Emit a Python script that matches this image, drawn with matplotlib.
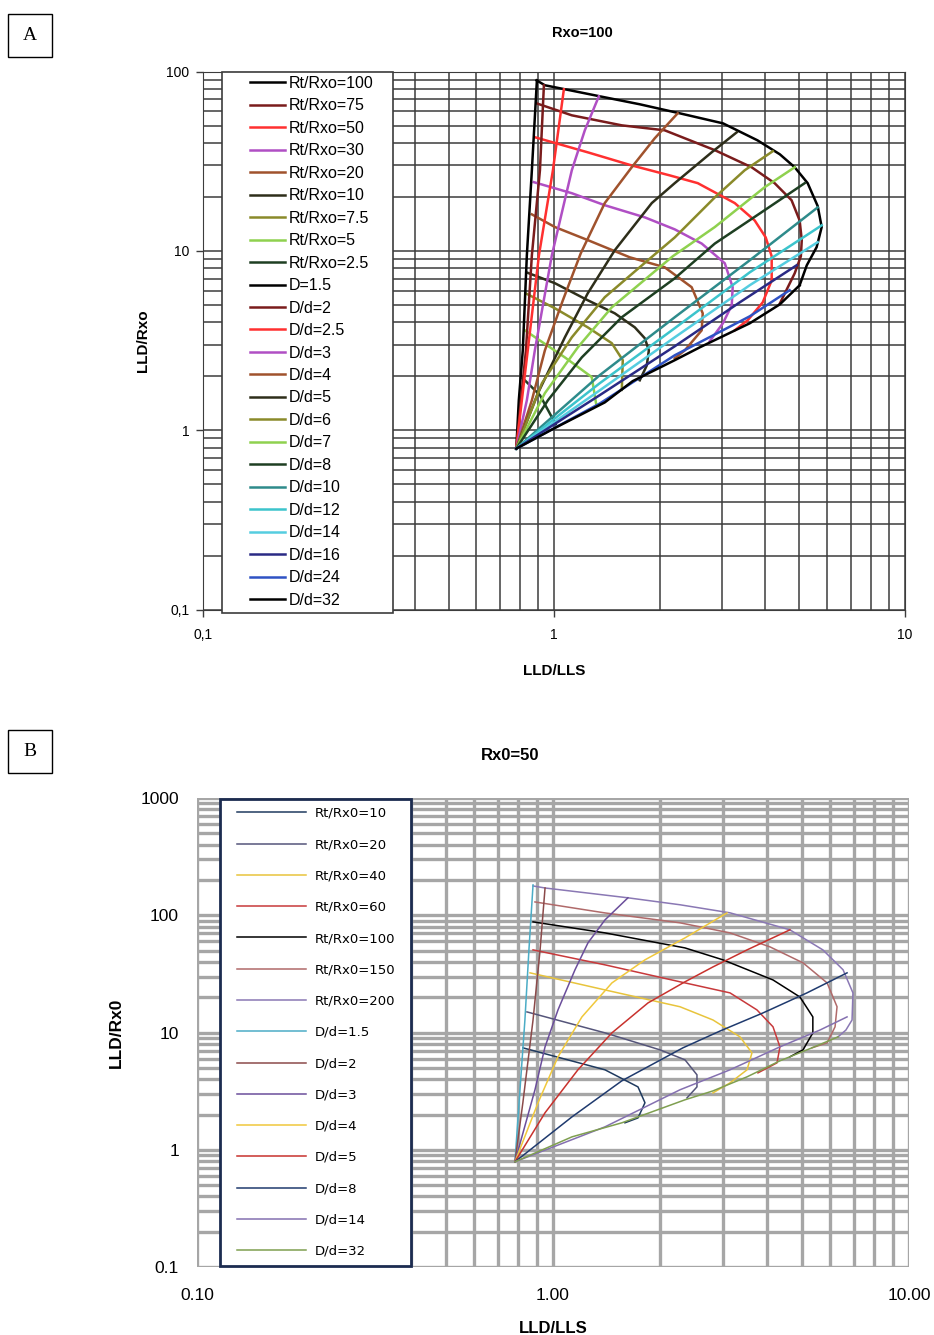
import matplotlib.pyplot as plt
import matplotlib.patches as mpatches

# ---------------- panel A : Rxo = 100 ----------------
a_origin = (0.78, 0.79)

a_rt_labels = ['Rt/Rxo=100', 'Rt/Rxo=75', 'Rt/Rxo=50', 'Rt/Rxo=30', 'Rt/Rxo=20',
               'Rt/Rxo=10', 'Rt/Rxo=7.5', 'Rt/Rxo=5', 'Rt/Rxo=2.5']
a_rt_x = [
    [0.891, 0.941, 1.073, 1.349, 1.754, 2.28, 3.03, 3.80, 4.40, 4.85, 5.28, 5.64, 5.79, 5.60, 5.25, 5.01],
    [0.891, 1.123, 1.559, 2.066, 2.871, 3.656, 4.25, 4.75, 5.01, 5.08, 5.05, 4.85, 4.40],
    [0.881, 1.247, 1.664, 2.136, 2.566, 3.272, 3.73, 4.01, 4.17, 4.17, 3.932, 3.564, 3.272],
    [0.875, 1.123, 1.394, 1.813, 2.207, 2.634, 3.065, 3.228, 3.208, 3.027, 2.777],
    [0.864, 1.005, 1.247, 1.643, 2.066, 2.466, 2.652, 2.634, 2.357, 2.207],
    [0.834, 1.005, 1.247, 1.489, 1.698, 1.813, 1.862, 1.837, 1.754],
    [0.829, 1.005, 1.247, 1.46, 1.569, 1.559],
    [0.825, 1.073, 1.28, 1.32],
    [0.814, 0.911, 1.01],
]
a_rt_y = [
    [89.5, 84.0, 79.8, 72.9, 65.8, 58.6, 51.5, 41.4, 34.6, 29.3, 23.9, 17.8, 13.6, 10.5, 8.32, 6.44],
    [66.6, 57.1, 50.2, 47.1, 36.5, 29.3, 23.9, 19.2, 14.8, 11.5, 9.34, 7.51, 5.1],
    [43.1, 35.5, 30.0, 26.4, 23.9, 18.5, 14.8, 11.9, 9.34, 6.86, 5.17, 4.11, 3.61],
    [24.2, 21.0, 18.0, 15.4, 13.2, 11.0, 8.54, 6.28, 4.98, 3.95, 3.14],
    [16.0, 13.6, 11.5, 9.22, 8.11, 6.28, 4.49, 3.61, 2.79, 2.52],
    [7.60, 6.61, 5.31, 4.49, 3.75, 3.26, 2.79, 2.30, 1.90],
    [5.81, 4.79, 3.75, 3.06, 2.46, 1.68],
    [3.61, 2.55, 1.98, 1.37],
    [1.95, 1.57, 1.08],
]

a_dd_labels = ['D=1.5', 'D/d=2', 'D/d=2.5', 'D/d=3', 'D/d=4', 'D/d=5', 'D/d=6', 'D/d=7',
               'D/d=8', 'D/d=10', 'D/d=12', 'D/d=14', 'D/d=16', 'D/d=24', 'D/d=32']
a_dd_x = [
    [0.793, 0.814, 0.836, 0.864, 0.893],
    [0.804, 0.831, 0.864, 0.911, 0.935],
    [0.809, 0.841, 0.905, 0.992, 1.066],
    [0.836, 0.881, 0.985, 1.123, 1.223, 1.341],
    [0.864, 0.941, 1.059, 1.191, 1.394, 1.664, 1.935, 2.25],
    [0.899, 1.073, 1.247, 1.489, 1.898, 2.207, 2.812, 3.315],
    [0.923, 1.123, 1.394, 1.849, 2.207, 2.871, 3.493, 4.20],
    [0.941, 1.168, 1.46, 2.178, 2.871, 3.984, 4.85],
    [0.96, 1.199, 1.559, 2.207, 2.871, 3.984, 5.18],
    [1.349, 2.207, 3.61, 5.64],
    [1.349, 2.207, 3.61, 5.79],
    [1.349, 2.207, 3.61, 5.64],
    [1.349, 2.207, 3.381, 4.91],
    [1.349, 2.207, 3.61, 4.69],
    [1.005, 1.394, 1.675, 2.207, 2.60, 3.61, 4.40, 5.01],
]
a_dd_y = [
    [1.47, 2.79, 9.46, 28.2, 89.5],
    [1.47, 2.79, 9.46, 28.2, 84.0],
    [1.47, 2.79, 9.46, 28.2, 79.8],
    [1.47, 2.79, 9.46, 28.2, 47.1, 72.9],
    [1.47, 2.79, 5.31, 9.71, 18.5, 29.3, 42.5, 58.6],
    [1.61, 3.30, 5.81, 10.1, 18.5, 23.9, 35.5, 45.9],
    [1.83, 3.30, 5.52, 8.87, 11.9, 19.9, 28.2, 36.0],
    [1.61, 2.90, 4.85, 9.34, 13.6, 22.7, 29.3],
    [1.47, 2.55, 4.27, 7.04, 11.0, 16.9, 23.9],
    [2.03, 4.27, 8.87, 17.5],
    [1.83, 3.71, 7.60, 13.9],
    [1.67, 3.30, 6.44, 11.2],
    [1.57, 2.94, 5.17, 8.32],
    [1.41, 2.62, 4.32, 6.04],
    [1.03, 1.43, 1.88, 2.46, 2.90, 3.95, 5.04, 6.44],
]

a_rt_colors = ['#000000', '#7a1c1c', '#ff3030', '#b04fc4', '#a0522d',
               '#2e2e1a', '#8a8a2a', '#8fd14f', '#1e3f22']
a_dd_colors = ['#000000', '#7a1c1c', '#ff3030', '#b04fc4', '#a0522d', '#2e2e1a',
               '#8a8a2a', '#8fd14f', '#1e3f22', '#2e8b8b', '#3cc4cc', '#55cde0',
               '#2a2a85', '#2f52c4', '#000000']

# ---------------- panel B : Rx0 = 50 ----------------
b_origin = (0.782, 0.79)

b_rt_labels = ['Rt/Rx0=10', 'Rt/Rx0=20', 'Rt/Rx0=40', 'Rt/Rx0=60', 'Rt/Rx0=100',
               'Rt/Rx0=150', 'Rt/Rx0=200']
b_rt_x = [
    [0.823, 1.40, 1.733, 1.813, 1.733, 1.593],
    [0.845, 1.40, 1.998, 2.349, 2.538, 2.538, 2.379],
    [0.862, 1.40, 2.274, 2.815, 3.352, 3.622, 3.508, 3.142, 2.815],
    [0.879, 1.40, 2.274, 3.142, 3.741, 4.15, 4.34, 4.26, 3.765],
    [0.879, 1.40, 2.349, 3.003, 4.15, 4.94, 5.37, 5.37, 5.04, 4.63],
    [0.890, 1.40, 2.274, 3.142, 4.07, 5.04, 5.89, 6.28, 6.20, 5.89, 5.34],
    [0.879, 0.95, 1.624, 2.274, 3.142, 4.63, 5.73, 6.53, 6.96, 6.92, 6.65, 6.32],
]
b_rt_y = [
    [7.41, 4.81, 3.44, 2.52, 1.87, 1.70],
    [15.0, 9.94, 7.12, 5.85, 4.36, 3.44, 2.77],
    [32.3, 23.1, 16.6, 12.8, 9.19, 6.71, 4.81, 3.72, 3.06],
    [50.7, 37.8, 27.1, 21.8, 15.6, 11.2, 7.55, 5.52, 4.53],
    [87.9, 70.8, 52.7, 41.7, 28.1, 20.1, 13.6, 9.94, 7.12, 6.21],
    [130, 104.8, 86.3, 70.8, 53.8, 39.3, 26.5, 16.6, 11.2, 8.17, 7.41],
    [178, 171, 141, 123, 105, 75.2, 50.7, 34.3, 21.8, 12.8, 10.5, 9.19],
]

b_dd_labels = ['D/d=1.5', 'D/d=2', 'D/d=3', 'D/d=4', 'D/d=5', 'D/d=8', 'D/d=14', 'D/d=32']
b_dd_x = [
    [0.803, 0.834, 0.856, 0.879],
    [0.823, 0.879, 0.920, 0.95],
    [0.890, 0.95, 1.033, 1.153, 1.254, 1.40, 1.624],
    [0.908, 1.033, 1.206, 1.464, 1.813, 2.349, 3.082],
    [0.95, 1.175, 1.464, 1.849, 2.349, 2.815, 3.508, 4.63],
    [1.131, 1.562, 2.318, 2.945, 3.889, 5.17, 6.70],
    [1.40, 2.274, 3.142, 4.34, 5.62, 6.70],
    [1.131, 1.562, 2.349, 2.815, 3.508, 4.34, 5.34, 6.32],
]
b_dd_y = [
    [2.52, 12.8, 50.7, 181.6],
    [2.52, 12.8, 50.7, 171],
    [3.25, 7.55, 15.6, 34.3, 58.2, 91.4, 141],
    [2.52, 6.21, 13.6, 26.5, 41.7, 64.2, 104.8],
    [2.07, 4.81, 9.94, 17.9, 27.1, 36.3, 50.7, 75.2],
    [1.91, 3.88, 7.41, 10.3, 14.7, 21.8, 32.3],
    [1.57, 3.25, 4.81, 7.55, 10.5, 13.6],
    [1.29, 1.70, 2.67, 3.18, 4.19, 5.74, 7.41, 9.19],
]

b_rt_colors = ['#1f3a5f', '#55557a', '#e8c43c', '#c8393b', '#000000', '#b06a6a', '#8a78b4']
b_dd_colors = ['#4bacc6', '#8b4a4a', '#6b4e9b', '#f0c83c', '#c8322d', '#1f3a6e', '#8470b0', '#7f9f50']

plt.rcParams['font.family'] = ['Liberation Sans', 'DejaVu Sans']

fig = plt.figure(figsize=(9.34, 13.35), dpi=100)

# panel letters
for ypos, letter in [(0.9735, 'A'), (0.437, 'B')]:
    fig.patches.append(mpatches.Rectangle((0.0086, ypos - 0.016), 0.047, 0.032,
                                          transform=fig.transFigure, fill=False,
                                          edgecolor='black', lw=1))
    fig.text(0.0321, ypos, letter, ha='center', va='center', fontsize=14,
             family='Liberation Serif')

# ---------- panel A ----------
axA = fig.add_axes([0.2177, 0.5434, 0.7512, 0.4029])
axA.set_xscale('log')
axA.set_yscale('log')
axA.set_xlim(0.1, 10)
axA.set_ylim(0.1, 100)
axA.grid(True, which='both', color='#3c3c3c', lw=1.1)
axA.set_axisbelow(True)

handles_a = []
for xs, ys, lab, col in zip(a_rt_x, a_rt_y, a_rt_labels, a_rt_colors):
    h, = axA.plot(xs, ys, color=col, lw=1.8, label=lab)
    handles_a.append(h)
for xs, ys, lab, col in zip(a_dd_x, a_dd_y, a_dd_labels, a_dd_colors):
    h, = axA.plot([a_origin[0]] + xs, [a_origin[1]] + ys, color=col, lw=1.8, label=lab)
    handles_a.append(h)

axA.set_xticks([0.1, 1, 10], ['0,1', '1', '10'])
axA.set_yticks([0.1, 1, 10, 100], ['0,1', '1', '10', '100'])
axA.tick_params(which='major', length=5, width=1, color='#3c3c3c', labelsize=10)
axA.tick_params(axis='x', which='major', pad=8)
axA.tick_params(axis='y', which='major', pad=5)
axA.tick_params(which='minor', length=0, labelleft=False, labelbottom=False)
for s in axA.spines.values():
    s.set_color('#3c3c3c')
fig.text(582 / 934, 1 - 33 / 1335, 'Rxo=100', ha='center', va='center',
         fontsize=10.5, fontweight='bold')
axA.set_xlabel('LLD/LLS', fontsize=11, fontweight='bold', labelpad=16)
axA.set_ylabel('LLD/Rxo', fontsize=11, fontweight='bold', labelpad=12)

axA.add_patch(mpatches.Rectangle((0.0266, -0.007), 0.2437, 1.007, transform=axA.transAxes,
                                 facecolor='white', edgecolor='#3c3c3c', lw=1.2,
                                 zorder=4, clip_on=False))
axA.legend(handles=handles_a, loc='upper left', bbox_to_anchor=(0.0666, 0.992),
           frameon=False, fontsize=11.5, handlelength=2.2, handletextpad=0.2,
           labelspacing=0.467, borderpad=0, borderaxespad=0)

# ---------- panel B ----------
axB = fig.add_axes([0.2109, 0.0509, 0.7623, 0.3513])
axB.set_xscale('log')
axB.set_yscale('log')
axB.set_xlim(0.1, 10)
axB.set_ylim(0.1, 1000)
axB.grid(True, which='both', color='#a6a6a6', lw=2.4)
axB.set_axisbelow(True)

handles_b = []
for xs, ys, lab, col in zip(b_rt_x, b_rt_y, b_rt_labels, b_rt_colors):
    h, = axB.plot(xs, ys, color=col, lw=1.1, label=lab)
    handles_b.append(h)
for xs, ys, lab, col in zip(b_dd_x, b_dd_y, b_dd_labels, b_dd_colors):
    h, = axB.plot([b_origin[0]] + xs, [b_origin[1]] + ys, color=col, lw=1.1, label=lab)
    handles_b.append(h)

axB.set_xticks([0.1, 1, 10], ['0.10', '1.00', '10.00'])
axB.set_yticks([0.1, 1, 10, 100, 1000], ['0.1', '1', '10', '100', '1000'])
axB.tick_params(which='major', length=0, labelsize=12.5)
axB.tick_params(axis='x', which='major', pad=15)
axB.tick_params(axis='y', which='major', pad=13)
axB.tick_params(which='minor', length=0, labelleft=False, labelbottom=False)
for s in axB.spines.values():
    s.set_visible(False)
fig.text(510 / 934, 1 - 755 / 1335, 'Rx0=50', ha='center', va='center',
         fontsize=12, fontweight='bold')
axB.set_xlabel('LLD/LLS', fontsize=12, fontweight='bold', labelpad=13)
axB.set_ylabel('LLD/Rx0', fontsize=12.5, fontweight='bold', labelpad=12)

axB.add_patch(mpatches.Rectangle((0.0323, 0.002), 0.2683, 0.996, transform=axB.transAxes,
                                 facecolor='white', edgecolor='#1c2c50', lw=2,
                                 zorder=4, clip_on=False))
axB.legend(handles=handles_b, loc='upper left', bbox_to_anchor=(0.0562, 0.981),
           frameon=False, prop={'family': 'DejaVu Sans', 'size': 9.5},
           handlelength=5.2, handletextpad=0.7, labelspacing=1.385,
           borderpad=0, borderaxespad=0)

fig.savefig('out.png', dpi=100)
